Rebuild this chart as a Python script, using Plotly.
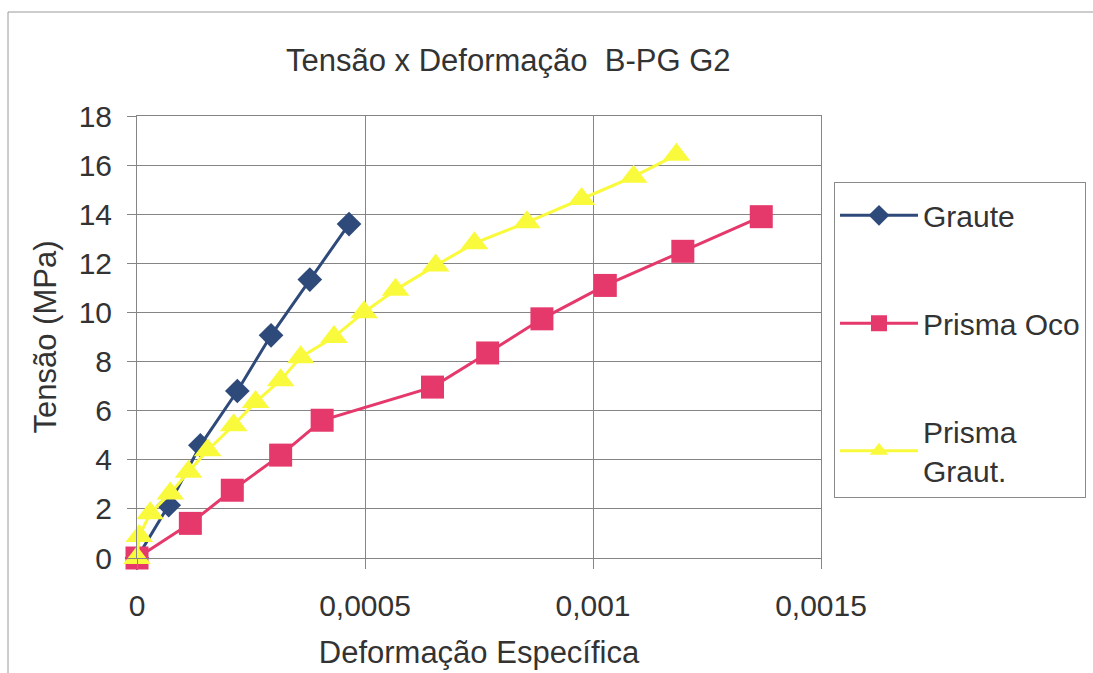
import plotly.graph_objects as go

# Stress-strain readings for the three specimens
graute_strain = [0, 0.0000695, 0.000139, 0.00022, 0.000294, 0.000379, 0.000465]
graute_stress = [0, 2.15, 4.59, 6.8, 9.07, 11.34, 13.6]

oco_strain = [0, 0.000117, 0.000209, 0.000315, 0.000406, 0.000648, 0.000769,
              0.000888, 0.001027, 0.001197, 0.001369]
oco_stress = [0, 1.41, 2.76, 4.19, 5.61, 6.96, 8.35, 9.74, 11.1, 12.49, 13.9]

graut_strain = [0, 0.000005, 0.000029, 0.000073, 0.000113, 0.000155, 0.000212,
                0.00026, 0.000315, 0.000359, 0.000432, 0.000498, 0.000567,
                0.000655, 0.00074, 0.000855, 0.000975, 0.001089, 0.001183]
graut_stress = [0, 0.9, 1.82, 2.63, 3.51, 4.39, 5.41, 6.35, 7.24, 8.18, 9.0,
                10.01, 10.92, 11.91, 12.82, 13.67, 14.62, 15.53, 16.42]

x_ticks = [0, 0.0005, 0.001, 0.0015]
x_tick_text = ["0", "0,0005", "0,001", "0,0015"]
y_ticks = list(range(0, 19, 2))

FONT = "Liberation Sans, Arial, sans-serif"
TEXT = "#333333"
GRID = "#858585"

fig = go.Figure()

fig.add_trace(go.Scatter(
    x=graute_strain, y=graute_stress, name="Graute", mode="lines+markers",
    line=dict(color="#2E4A7A", width=3),
    marker=dict(symbol="diamond", size=19, color="#2E4A7A"),
    legendgroup="a", cliponaxis=False,
))
fig.add_trace(go.Scatter(
    x=oco_strain, y=oco_stress, name="Prisma Oco", mode="lines+markers",
    line=dict(color="#E5396C", width=3),
    marker=dict(symbol="square", size=23, color="#E5396C"),
    legendgroup="b", cliponaxis=False,
))
fig.add_trace(go.Scatter(
    x=graut_strain, y=graut_stress, name="Prisma<br>Graut.", mode="lines+markers",
    line=dict(color="#FAFA3C", width=3),
    marker=dict(symbol="triangle-up", size=24, color="#FAFA3C"),
    legendgroup="c", cliponaxis=False,
))

fig.update_layout(
    width=1093, height=673,
    margin=dict(l=137, r=272, t=116, b=115, autoexpand=False),
    paper_bgcolor="white", plot_bgcolor="white",
    font=dict(family=FONT, size=30, color=TEXT),
    title=dict(
        text="Tensão x Deformação  B-PG G2",
        x=0.465, xanchor="center", xref="container",
        y=1 - 60 / 673, yanchor="middle", yref="container",
        font=dict(family=FONT, size=31, color=TEXT),
    ),
    showlegend=True,
    legend=dict(
        x=1.019, xanchor="left", y=0.851, yanchor="top",
        bgcolor="white", bordercolor="#8a8a8a", borderwidth=1,
        font=dict(family=FONT, size=30, color=TEXT),
        title=dict(text=" ", font=dict(size=5)),
        traceorder="grouped", tracegroupgap=66,
        itemwidth=78,
    ),
    xaxis=dict(
        range=[0, 0.0015], tickvals=x_ticks, ticktext=x_tick_text,
        showgrid=True, gridcolor=GRID, gridwidth=1, automargin=False,
        zeroline=False, showline=True, linecolor=GRID, linewidth=1, mirror=True,
        ticks="outside", ticklen=10, tickcolor=GRID,
        ticklabelstandoff=11,
        tickfont=dict(family=FONT, size=30, color=TEXT),
        title=dict(text="Deformação Específica", standoff=20,
                   font=dict(family=FONT, size=31, color=TEXT)),
    ),
    yaxis=dict(
        range=[0, 18], tickvals=y_ticks,
        showgrid=True, gridcolor=GRID, gridwidth=1, automargin=False,
        zeroline=False, showline=True, linecolor=GRID, linewidth=1, mirror=True,
        ticks="outside", ticklen=9, tickcolor=GRID,
        ticklabelstandoff=9,
        tickfont=dict(family=FONT, size=30, color=TEXT),
        title=dict(text="Tensão (MPa)", standoff=12,
                   font=dict(family=FONT, size=31, color=TEXT)),
    ),
)

# Frame lines along the top and left of the figure
fig.add_shape(type="line", xref="paper", yref="paper",
              x0=-129 / 684, x1=(1093 - 137) / 684,
              y0=(558 - 12) / 442, y1=(558 - 12) / 442,
              line=dict(color="#9a9a9a", width=1))
fig.add_shape(type="line", xref="paper", yref="paper",
              x0=-129 / 684, x1=-129 / 684,
              y0=(558 - 12) / 442, y1=-115 / 442,
              line=dict(color="#9a9a9a", width=1))

fig.write_html("out.html")
